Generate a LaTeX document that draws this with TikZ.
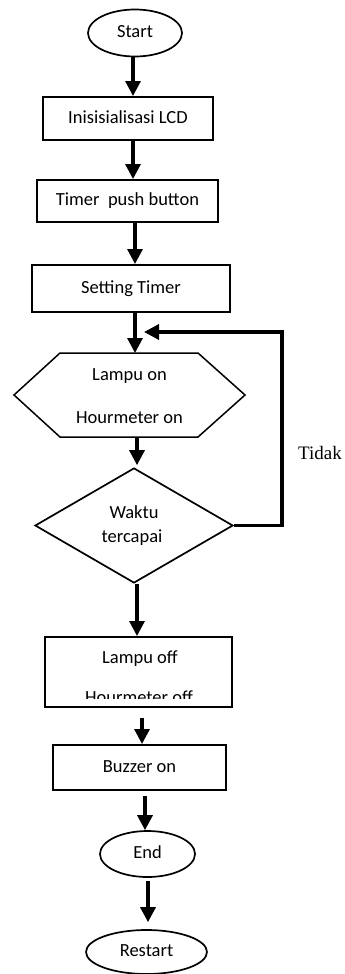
\documentclass[tikz,border=0pt]{standalone}
\usepackage{fontspec}
\setmainfont{Carlito}
\newfontfamily\labelserif{Liberation Serif}
\usetikzlibrary{arrows.meta,shapes.geometric}

\begin{document}
\begin{tikzpicture}[x=1pt,y=-1pt,
  font=\fontsize{18.5}{22}\selectfont,
  box/.style={draw, line width=2pt, rectangle, inner sep=0pt,
    text height=12pt, text depth=3pt},
  term/.style={draw, line width=1.7pt, ellipse, inner sep=0pt,
    text height=12pt, text depth=3pt},
  flow/.style={line width=3.2pt, -{Triangle[length=15pt,width=15pt]}},
  back/.style={line width=3.5pt, line join=miter,
    -{Triangle[length=15pt,width=15pt]}},
  txt/.style={inner sep=0pt, anchor=base},
]
\useasboundingbox (0,0) rectangle (345,974);

% terminals and process boxes
\node[term, minimum width=94pt, minimum height=47pt] (start) at (135,33) {Start};
\node[box, minimum width=170pt, minimum height=43pt] (lcd) at (128,118.5) {Inisisialisasi LCD};
\node[box, minimum width=181pt, minimum height=42pt] (timer) at (127.5,201) {Timer\ \ push button};
\node[box, minimum width=198pt, minimum height=47pt] (setting) at (131,288.5) {Setting Timer};

% output step (hexagon)
\coordinate (hexW) at (14,395);
\coordinate (hexE) at (245,395);
\coordinate (hexN) at (135,353);
\coordinate (hexS) at (137,437);
\draw[line width=1.5pt, line join=miter]
  (hexW) -- (60,353) -- (198,353) -- (hexE) -- (198,437) -- (60,437) -- cycle;
\node[txt] (lampOn) at (129.5,380) {Lampu on};
\node[txt] (hourOn) at (129.5,423) {Hourmeter on};

% decision
\node[draw, diamond, line width=1.7pt, inner sep=0pt,
  minimum width=198pt, minimum height=115pt] (dec) at (134,525.5) {};
\node[txt] (waktu) at (134,518) {Waktu};
\node[txt] (capai) at (132,542) {tercapai};

% lamp / hour meter off
\node[box, minimum width=187pt, minimum height=70pt] (off) at (138.5,672) {};
\begin{scope}
  \clip (46,638) rectangle (231,698);
  \node[txt] (lampOff) at (140,663) {Lampu off};
  \node[txt] (hourOff) at (139,703) {Hourmeter off};
\end{scope}

\node[box, minimum width=173pt, minimum height=45pt] (buzz) at (139.5,767.5) {Buzzer on};
\node[term, minimum width=95pt, minimum height=46pt] (end) at (147.5,854) {End};
\node[term, minimum width=121pt, minimum height=44pt] (restart) at (146.5,952) {Restart};

\node[txt, font=\labelserif\fontsize{19}{22}\selectfont] (tidak) at (320,459) {Tidak};

% connectors
\draw[flow] (start.south -| 133,0) -- (lcd.north -| 133,0);
\draw[flow] (lcd.south -| 133,0) -- (timer.north -| 133,0);
\draw[flow] (timer.south -| 135,0) -- (setting.north -| 135,0);
\draw[flow] (setting.south -| 135,0) -- (hexN);
\draw[flow, shorten >=2pt] (hexS) -- (dec.north -| 137,0);
\draw[flow] (dec.south -| 137,0) -- (off.north -| 137,0);
\draw[flow, shorten <=10pt] (off.south -| 142,0) -- (buzz.north -| 142,0);
\draw[flow, shorten <=5pt] (buzz.south -| 145,0) -- (end.north -| 145,0);
\draw[flow, shorten <=3pt, shorten >=7pt] (end.south -| 148,0) -- (restart.north -| 148,0);

% loop back when time not reached
\coordinate (loopTR) at (282,332);
\coordinate (merge) at (135,332);
\draw[back, shorten >=9pt] (dec.east) -- (dec.east -| loopTR) -- (loopTR) -- (merge);
\end{tikzpicture}
\end{document}
